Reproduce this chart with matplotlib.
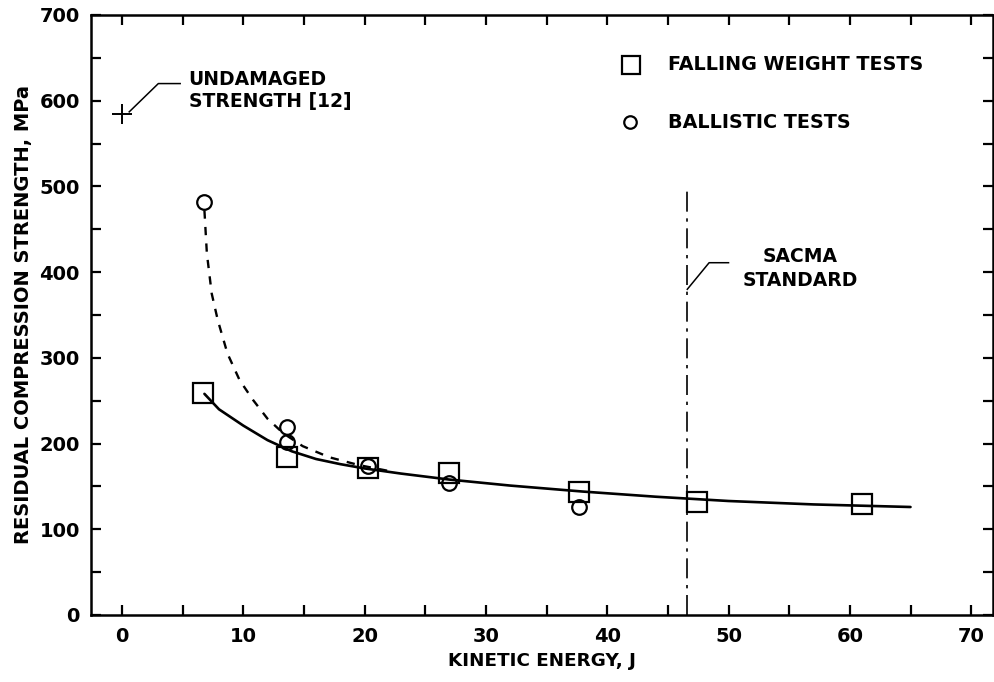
import matplotlib
matplotlib.use("Agg")
import matplotlib.pyplot as plt
from matplotlib.ticker import MultipleLocator

plt.rcParams['font.family'] = ['DejaVu Sans']
plt.rcParams['font.weight'] = 'bold'

# falling weight tests (squares)
fw_energy = [6.7, 13.6, 20.3, 27.0, 37.7, 47.4, 61.0]
fw_strength = [259, 184, 171, 166, 144, 132, 129]

# ballistic tests (circles)
bal_energy = [6.8, 13.6, 13.6, 20.3, 27.0, 37.7]
bal_strength = [482, 219, 202, 174, 154, 126]

# fitted curve through falling weight data
fit_fw_x = [6.8, 8.0, 10.0, 12.0, 14.0, 16.0, 18.0, 20.0, 23.0, 27.0, 32.0, 38.0, 44.0, 50.0, 57.0, 65.0]
fit_fw_y = [258, 240, 221, 204, 191, 182, 176, 171, 165, 158, 151, 144, 138, 133, 129, 126]

# fitted curve through ballistic data
fit_bal_x = [6.8, 7.0, 7.4, 7.9, 8.7, 9.7, 10.8, 12.0, 13.3, 14.9, 17.1, 19.5, 22.0]
fit_bal_y = [472, 422, 375, 344, 305, 274, 251, 229, 212, 197, 184, 175, 168]

undamaged_energy = 0.0
undamaged_strength = 584
sacma_energy = 46.6

fig = plt.figure(figsize=(9.94, 6.82), dpi=100)
ax = fig.add_axes([91 / 994, 1 - 615 / 682, 902 / 994, 600 / 682])

ax.plot(fit_fw_x, fit_fw_y, color='black', lw=1.9, solid_capstyle='round')
ax.plot(fit_bal_x, fit_bal_y, color='black', lw=1.7, ls=(0, (3.5, 3.5)))

ax.plot(fw_energy, fw_strength, ls='none', marker='s', ms=14, mfc='none',
        mec='black', mew=1.6)
ax.plot(bal_energy, bal_strength, ls='none', marker='o', ms=10.5, mfc='none',
        mec='black', mew=1.6)

ax.plot([undamaged_energy], [undamaged_strength], ls='none', marker='+', ms=15,
        mec='black', mew=1.4)

# SACMA standard line
ax.plot([sacma_energy, sacma_energy], [0, 500], color='black', lw=1.2,
        ls=(0, (12, 4, 2, 4)))

# leaders and labels
ax.plot([0.6, 3.0, 4.8], [587, 620, 620], color='black', lw=1.1)
ax.text(5.5, 612, 'UNDAMAGED\nSTRENGTH [12]', fontsize=13.5, fontweight='bold',
        va='center', ha='left', linespacing=1.25)

ax.plot([sacma_energy, 48.4, 50.0], [380, 411, 411], color='black', lw=1.1)
ax.text(55.9, 404, 'SACMA\nSTANDARD', fontsize=13.5, fontweight='bold',
        va='center', ha='center', linespacing=1.3)

# legend drawn by hand
ax.plot([42.0], [642], ls='none', marker='s', ms=13, mfc='none', mec='black', mew=1.6)
ax.text(45.0, 642, 'FALLING WEIGHT TESTS', fontsize=13.8, fontweight='bold', va='center')
ax.plot([41.9], [575], ls='none', marker='o', ms=9, mfc='none', mec='black', mew=1.6)
ax.text(45.0, 575, 'BALLISTIC TESTS', fontsize=13.8, fontweight='bold', va='center')

ax.set_xlim(-2.55, 71.8)
ax.set_ylim(0, 700)
ax.xaxis.set_major_locator(MultipleLocator(10))
ax.xaxis.set_minor_locator(MultipleLocator(5))
ax.yaxis.set_major_locator(MultipleLocator(100))
ax.yaxis.set_minor_locator(MultipleLocator(50))
ax.tick_params(which='both', direction='in', top=True, right=True, length=7,
               width=1.6, labelsize=14)
ax.tick_params(axis='x', pad=9)
ax.tick_params(axis='y', pad=8)
for lab in ax.get_xticklabels() + ax.get_yticklabels():
    lab.set_fontweight('bold')
for sp in ax.spines.values():
    sp.set_linewidth(1.8)

ax.set_xlabel('KINETIC ENERGY, J', fontsize=13.2, fontweight='bold', labelpad=4)
ax.set_ylabel('RESIDUAL COMPRESSION STRENGTH, MPa', fontsize=14,
              fontweight='bold', labelpad=5)

fig.savefig('out.png', dpi=100)
